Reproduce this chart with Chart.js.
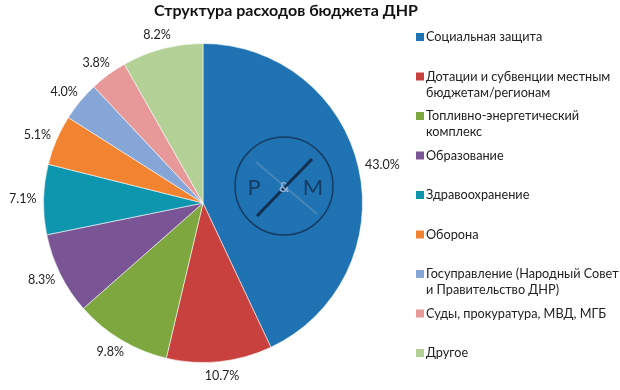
<!DOCTYPE html>
<html>
<head>
<meta charset="utf-8">
<script src="https://cdn.jsdelivr.net/npm/chart.js@4/dist/chart.umd.min.js"></script>
<style>html,body{margin:0;padding:0;background:#fff;}canvas{display:block;}</style>
</head>
<body>
<canvas id="c" width="620" height="390"></canvas>
<script>
const title = "Структура расходов бюджета ДНР";
const categories = [
  ["Социальная защита"],
  ["Дотации и субвенции местным", "бюджетам/регионам"],
  ["Топливно-энергетический", "комплекс"],
  ["Образование"],
  ["Здравоохранение"],
  ["Оборона"],
  ["Госуправление (Народный Совет", "и Правительство ДНР)"],
  ["Суды, прокуратура, МВД, МГБ"],
  ["Другое"]
];
const shares = [43.0, 10.7, 9.8, 8.3, 7.1, 5.1, 4.0, 3.8, 8.2];
const colors = ["#1F73B2", "#C8413F", "#7EA83F", "#7A5596", "#0F96AF", "#F28431", "#86A6D7", "#E7999A", "#B3D197"];

const FONT = "Lato, 'Open Sans', sans-serif";

const decor = {
  id: "decor",
  afterDraw(chart) {
    const ctx = chart.ctx;
    const meta = chart.getDatasetMeta(0);
    ctx.save();
    // title
    ctx.fillStyle = "#111";
    ctx.font = "bold 16px " + FONT;
    ctx.textAlign = "center";
    ctx.textBaseline = "middle";
    ctx.fillText(title, 286, 11);

    // watermark logo inside the large slice
    const c0 = meta.data[0];
    const cx = c0.x + 81, cy = c0.y - 17, lr = 49;
    ctx.strokeStyle = "rgba(20,45,80,0.8)";
    ctx.lineWidth = 1.5;
    ctx.beginPath(); ctx.arc(cx, cy, lr, 0, Math.PI * 2); ctx.stroke();
    ctx.strokeStyle = "rgba(100,150,190,0.55)";
    ctx.lineWidth = 2;
    ctx.beginPath(); ctx.moveTo(cx - 28, cy - 24); ctx.lineTo(cx + 33, cy + 28); ctx.stroke();
    ctx.strokeStyle = "rgba(15,35,65,0.85)";
    ctx.lineWidth = 3;
    ctx.beginPath(); ctx.moveTo(cx - 27, cy + 30); ctx.lineTo(cx + 28, cy - 27); ctx.stroke();
    ctx.fillStyle = "rgba(20,45,80,0.8)";
    ctx.font = "22px " + FONT;
    ctx.fillText("P", cx - 30, cy + 2);
    ctx.fillText("M", cx + 29, cy + 2);
    ctx.fillStyle = "rgba(150,185,220,0.95)";
    ctx.font = "bold 14px " + FONT;
    ctx.fillText("&", cx, cy + 1);

    // data labels outside the pie (text box kept a small gap from the edge)
    ctx.fillStyle = "#222";
    ctx.font = "12.5px " + FONT;
    meta.data.forEach((arc, i) => {
      const p = arc.getProps(["x", "y", "startAngle", "endAngle", "outerRadius"], true);
      const a = (p.startAngle + p.endAngle) / 2;
      const txt = shares[i].toFixed(1) + "%";
      const w = ctx.measureText(txt).width, h = 14;
      const dx = Math.cos(a), dy = Math.sin(a);
      const r = p.outerRadius + 7;
      ctx.fillText(txt, p.x + dx * r + dx * w / 2, p.y + dy * r + dy * h / 2);
    });

    // legend
    ctx.textAlign = "left";
    ctx.font = "12.7px " + FONT;
    const x0 = 416, y0 = 37, step = 39.5, lh = 16;
    categories.forEach((lines, i) => {
      const y = y0 + i * step;
      ctx.fillStyle = colors[i];
      ctx.fillRect(x0, y - 4, 8, 8);
      ctx.fillStyle = "#222";
      lines.forEach((t, k) => ctx.fillText(t, x0 + 10, y + k * lh));
    });
    ctx.restore();
  }
};

new Chart(document.getElementById("c"), {
  type: "pie",
  data: {
    labels: categories.map(l => l.join(" ")),
    datasets: [{
      data: shares,
      backgroundColor: colors,
      borderColor: "rgba(255,255,255,0.55)",
      borderWidth: 1,
      hoverOffset: 0
    }]
  },
  options: {
    responsive: false,
    animation: false,
    layout: { padding: { left: 43, right: 257, top: 43, bottom: 27 } },
    plugins: { legend: { display: false }, title: { display: false }, tooltip: { enabled: false } }
  },
  plugins: [decor]
});
</script>
</body>
</html>
